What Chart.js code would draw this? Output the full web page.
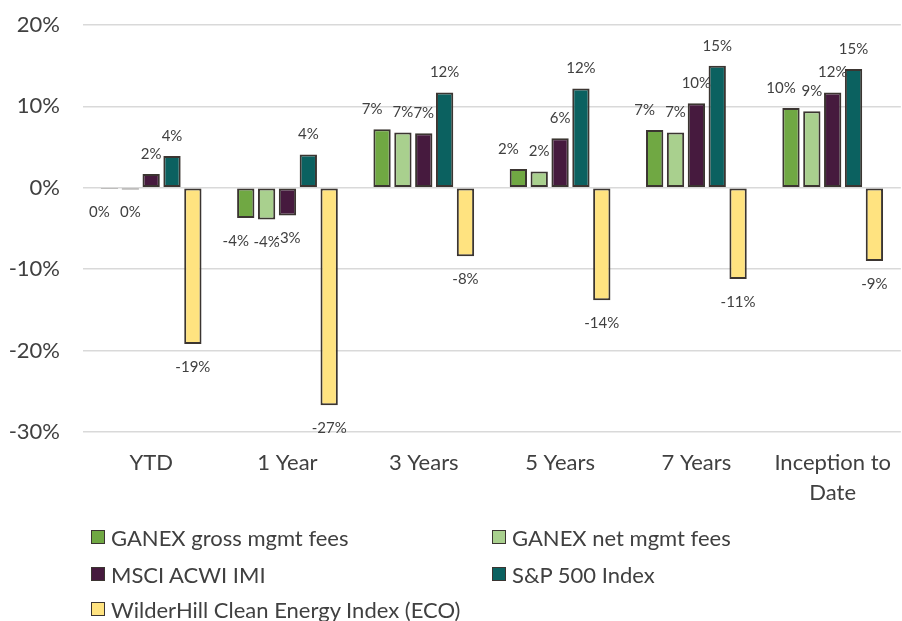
<!DOCTYPE html>
<html>
<head>
<meta charset="utf-8">
<script src="https://cdn.jsdelivr.net/npm/chart.js@4.4.1/dist/chart.umd.min.js"></script>
<style>
  html, body { margin: 0; padding: 0; background: #fff; overflow: hidden; }
  #wrap { position: relative; width: 902px; height: 621px; overflow: hidden; }
  #box { position: absolute; left: 0; top: 0; width: 907px; height: 502px; }
  #legend { position: absolute; left: 0; top: 0; width: 902px; height: 621px; pointer-events: none;
            font-family: Lato, "Open Sans", sans-serif; font-size: 22px; color: #404040; }
  .item { position: absolute; display: flex; align-items: center; white-space: nowrap; }
  .sw { width: 12px; height: 12px; border: 1.5px solid #3b3531; margin-right: 6px; }
</style>
</head>
<body>
<div id="wrap">
  <div id="box"><canvas id="perfChart"></canvas></div>
  <div id="legend"></div>
</div>
<script>
var categories = ['YTD', '1 Year', '3 Years', '5 Years', '7 Years', ['Inception to', 'Date']];
var seriesNames = ['GANEX gross mgmt fees', 'GANEX net mgmt fees', 'MSCI ACWI IMI', 'S&P 500 Index', 'WilderHill Clean Energy Index (ECO)'];
var ganexGross = [-0.15, -3.7, 7.2, 2.3, 7.1, 9.8];
var ganexNet   = [-0.2, -3.9, 6.8, 2.0, 6.8, 9.4];
var msciAcwi   = [1.7, -3.4, 6.7, 6.1, 10.4, 11.7];
var sp500      = [3.9, 4.1, 11.7, 12.2, 15.0, 14.6];
var ecoIndex   = [-19.2, -26.7, -8.4, -13.8, -11.2, -9.0];
var yTicks = [-30, -20, -10, 0, 10, 20];

var colors = ['#70a843', '#a9d08e', '#461a3e', '#0b6160', '#ffe380'];
var textColor = '#404040';
var labelDx = [-10, 0, 0, 0, 0];

var valueLabels = {
  id: 'valueLabels',
  afterDatasetsDraw: function(chart) {
    var ctx = chart.ctx;
    ctx.save();
    ctx.font = '15px Lato, "Open Sans", sans-serif';
    ctx.fillStyle = textColor;
    ctx.textAlign = 'center';
    ctx.textBaseline = 'middle';
    chart.data.datasets.forEach(function(ds, i) {
      chart.getDatasetMeta(i).data.forEach(function(bar, j) {
        var v = ds.data[j];
        var txt = Math.round(v) + '%';
        if (txt === '-0%') txt = '0%';
        var y = v >= 0 ? bar.y - 20 : bar.y + 23;
        ctx.fillText(txt, bar.x + labelDx[i], y);
      });
    });
    ctx.restore();
  }
};

var seriesData = [ganexGross, ganexNet, msciAcwi, sp500, ecoIndex];

new Chart(document.getElementById('perfChart'), {
  type: 'bar',
  data: {
    labels: categories,
    datasets: seriesData.map(function(d, i) {
      return {
        label: seriesNames[i],
        data: d,
        backgroundColor: colors[i],
        borderColor: '#3b3531',
        borderWidth: 2,
        borderSkipped: false,
        categoryPercentage: 0.765,
        barPercentage: 0.83
      };
    })
  },
  options: {
    responsive: true,
    maintainAspectRatio: false,
    animation: false,
    layout: { padding: { top: 25, left: 0, right: 0, bottom: 0 } },
    plugins: { legend: { display: false }, tooltip: { enabled: false } },
    scales: {
      x: {
        grid: { display: false, drawTicks: false },
        border: { display: false },
        ticks: { color: textColor, font: { family: 'Lato, "Open Sans", sans-serif', size: 22, lineHeight: 1.36 }, padding: 16, maxRotation: 0, autoSkip: false },
        afterFit: function(s) { s.height = 70; }
      },
      y: {
        min: -30, max: 20,
        afterBuildTicks: function(s) { s.ticks = yTicks.map(function(v) { return { value: v }; }); },
        grid: { color: '#d9d9d9', lineWidth: 1.5, drawTicks: false },
        border: { display: false },
        ticks: { color: textColor, font: { family: 'Lato, "Open Sans", sans-serif', size: 22 }, padding: 23,
                 callback: function(v) { return v + '%'; } },
        afterFit: function(s) { s.width = 83; s.paddingTop = 0; s.paddingBottom = 0; }
      }
    }
  },
  plugins: [valueLabels]
});

// legend laid out in two columns like the original
var legendPos = [[91, 537], [492, 537], [91, 574], [492, 574], [91, 609]];
var lg = document.getElementById('legend');
seriesNames.forEach(function(name, i) {
  var it = document.createElement('div');
  it.className = 'item';
  it.style.left = legendPos[i][0] + 'px';
  it.style.top = (legendPos[i][1] - 14) + 'px';
  it.style.height = '28px';
  var sw = document.createElement('span');
  sw.className = 'sw';
  sw.style.background = colors[i];
  var tx = document.createElement('span');
  tx.textContent = name;
  it.appendChild(sw);
  it.appendChild(tx);
  lg.appendChild(it);
});
</script>
</body>
</html>
